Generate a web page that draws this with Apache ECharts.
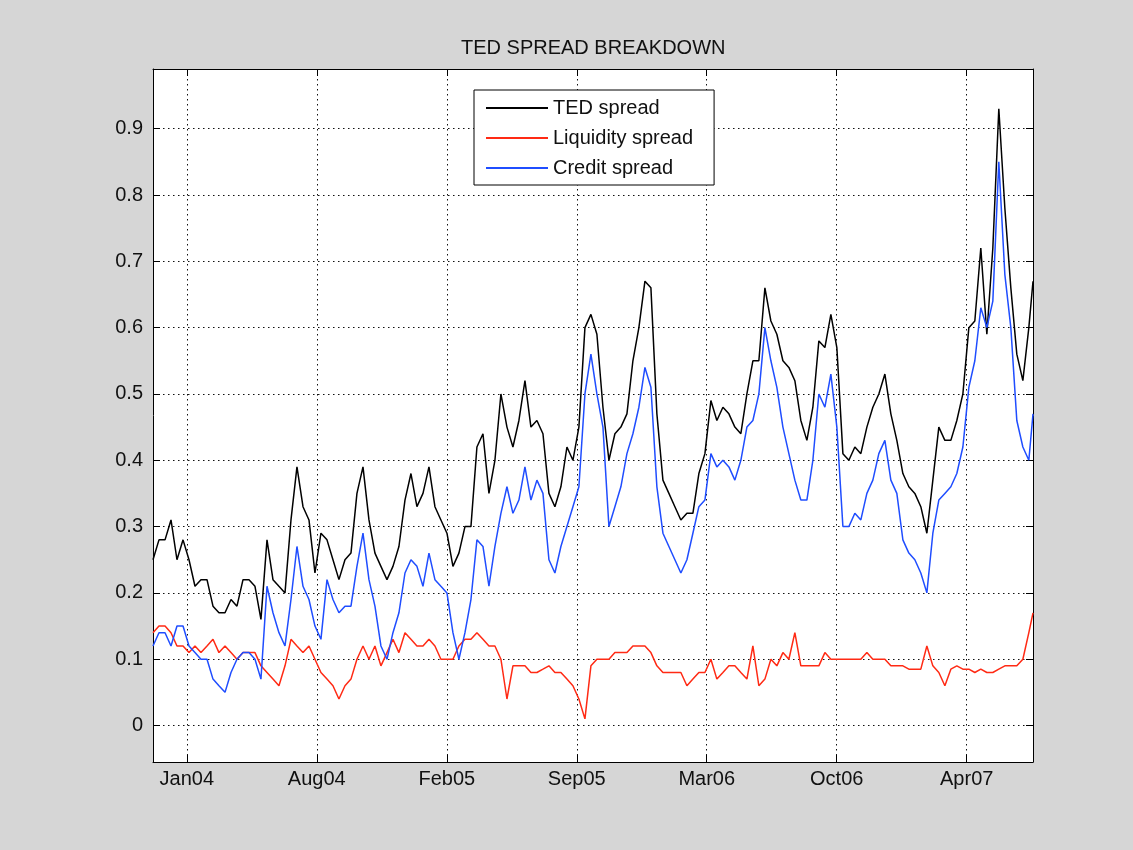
<!DOCTYPE html>
<html>
<head>
<meta charset="utf-8">
<title>TED SPREAD BREAKDOWN</title>
<script src="https://cdn.jsdelivr.net/npm/echarts@6.0.0/dist/echarts.min.js"></script>
<style>
    html, body { margin: 0; padding: 0; background: #d6d6d6; }
    #chart { width: 1133px; height: 850px; }
</style>
</head>
<body>
<div id="chart"></div>
<script>
// x is counted in days from the first date tick (mid Jan 2004), ticks every 200 days
var xMin = -52, xMax = 1302;
var xTicks = [0, 200, 400, 600, 800, 1000, 1200];
var xTickLabels = ['Jan04', 'Aug04', 'Feb05', 'Sep05', 'Mar06', 'Oct06', 'Apr07'];
var yTicks = [0, 0.1, 0.2, 0.3, 0.4, 0.5, 0.6, 0.7, 0.8, 0.9];

// sample dates (days), roughly every 9 days
var days = [];
for (var i = 0; i < 147; i++) {
    days.push(Math.round((xMin + i * 9.23) * 10) / 10);
}
days.push(xMax);

var tedSpread = [
    0.25, 0.28, 0.28, 0.31, 0.25, 0.28, 0.25, 0.21, 0.22, 0.22, 0.18, 0.17, 0.17, 0.19, 0.18, 0.22, 0.22, 0.21, 0.16, 0.28, 0.22, 0.21, 0.20, 0.31, 0.39,
    0.33, 0.31, 0.23, 0.29, 0.28, 0.25, 0.22, 0.25, 0.26, 0.35, 0.39, 0.31, 0.26, 0.24, 0.22, 0.24, 0.27, 0.34, 0.38, 0.33, 0.35, 0.39, 0.33, 0.31,
    0.29, 0.24, 0.26, 0.30, 0.30, 0.42, 0.44, 0.35, 0.40, 0.50, 0.45, 0.42, 0.46, 0.52, 0.45, 0.46, 0.44, 0.35, 0.33, 0.36, 0.42, 0.40, 0.45, 0.60,
    0.62, 0.59, 0.48, 0.40, 0.44, 0.45, 0.47, 0.55, 0.60, 0.67, 0.66, 0.47, 0.37, 0.35, 0.33, 0.31, 0.32, 0.32, 0.38, 0.41, 0.49, 0.46, 0.48, 0.47,
    0.45, 0.44, 0.50, 0.55, 0.55, 0.66, 0.61, 0.59, 0.55, 0.54, 0.52, 0.46, 0.43, 0.48, 0.58, 0.57, 0.62, 0.57, 0.41, 0.40, 0.42, 0.41, 0.45, 0.48,
    0.50, 0.53, 0.47, 0.43, 0.38, 0.36, 0.35, 0.33, 0.29, 0.37, 0.45, 0.43, 0.43, 0.46, 0.50, 0.60, 0.61, 0.72, 0.59, 0.72, 0.93, 0.78, 0.66, 0.56, 0.52, 0.60, 0.67
];

var liquiditySpread = [
    0.14, 0.15, 0.15, 0.14, 0.12, 0.12, 0.11, 0.12, 0.11, 0.12, 0.13, 0.11, 0.12, 0.11, 0.10, 0.11, 0.11, 0.11, 0.09, 0.08, 0.07, 0.06, 0.09, 0.13, 0.12,
    0.11, 0.12, 0.10, 0.08, 0.07, 0.06, 0.04, 0.06, 0.07, 0.10, 0.12, 0.10, 0.12, 0.09, 0.11, 0.13, 0.11, 0.14, 0.13, 0.12, 0.12, 0.13, 0.12, 0.10,
    0.10, 0.10, 0.12, 0.13, 0.13, 0.14, 0.13, 0.12, 0.12, 0.10, 0.04, 0.09, 0.09, 0.09, 0.08, 0.08, 0.085, 0.09, 0.08, 0.08, 0.07, 0.06, 0.04, 0.01,
    0.09, 0.10, 0.10, 0.10, 0.11, 0.11, 0.11, 0.12, 0.12, 0.12, 0.11, 0.09, 0.08, 0.08, 0.08, 0.08, 0.06, 0.07, 0.08, 0.08, 0.10, 0.07, 0.08, 0.09,
    0.09, 0.08, 0.07, 0.12, 0.06, 0.07, 0.10, 0.09, 0.11, 0.10, 0.14, 0.09, 0.09, 0.09, 0.09, 0.11, 0.10, 0.10, 0.10, 0.10, 0.10, 0.10, 0.11, 0.10,
    0.10, 0.10, 0.09, 0.09, 0.09, 0.085, 0.085, 0.085, 0.12, 0.09, 0.08, 0.06, 0.085, 0.09, 0.085, 0.085, 0.08, 0.085, 0.08, 0.08, 0.085, 0.09, 0.09, 0.09, 0.10, 0.14, 0.17
];

var creditSpread = [
    0.12, 0.14, 0.14, 0.12, 0.15, 0.15, 0.12, 0.11, 0.10, 0.10, 0.07, 0.06, 0.05, 0.08, 0.10, 0.11, 0.11, 0.10, 0.07, 0.21, 0.17, 0.14, 0.12, 0.19, 0.27,
    0.21, 0.19, 0.15, 0.13, 0.22, 0.19, 0.17, 0.18, 0.18, 0.24, 0.29, 0.22, 0.18, 0.12, 0.10, 0.14, 0.17, 0.23, 0.25, 0.24, 0.21, 0.26, 0.22, 0.21,
    0.20, 0.14, 0.10, 0.14, 0.19, 0.28, 0.27, 0.21, 0.27, 0.32, 0.36, 0.32, 0.34, 0.39, 0.34, 0.37, 0.35, 0.25, 0.23, 0.27, 0.30, 0.33, 0.36, 0.50,
    0.56, 0.50, 0.45, 0.30, 0.33, 0.36, 0.41, 0.44, 0.48, 0.54, 0.51, 0.36, 0.29, 0.27, 0.25, 0.23, 0.25, 0.29, 0.33, 0.34, 0.41, 0.39, 0.40, 0.39,
    0.37, 0.40, 0.45, 0.46, 0.50, 0.60, 0.55, 0.51, 0.45, 0.41, 0.37, 0.34, 0.34, 0.40, 0.50, 0.48, 0.53, 0.45, 0.30, 0.30, 0.32, 0.31, 0.35, 0.37,
    0.41, 0.43, 0.37, 0.35, 0.28, 0.26, 0.25, 0.23, 0.20, 0.29, 0.34, 0.35, 0.36, 0.38, 0.42, 0.51, 0.55, 0.63, 0.60, 0.64, 0.85, 0.68, 0.60, 0.46, 0.42, 0.40, 0.47
];

function pairs(xs, ys) {
    var out = [];
    for (var i = 0; i < ys.length; i++) {
        out.push([xs[i], ys[i]]);
    }
    return out;
}

var font = 'Liberation Sans, Arial, Helvetica, sans-serif';
var dotted = { color: '#111', width: 1, type: [1.5, 3.5] };

function lineSeries(name, values, color) {
    return {
        name: name,
        type: 'line',
        data: pairs(days, values),
        symbol: 'none',
        showSymbol: false,
        lineStyle: { color: color, width: 1.5 },
        itemStyle: { color: color },
        silent: true
    };
}

var chart = echarts.init(document.getElementById('chart'));

var option = {
    backgroundColor: '#d6d6d6',
    animation: false,
    title: {
        text: 'TED SPREAD BREAKDOWN',
        left: 456,
        top: 33,
        textStyle: { fontFamily: font, fontSize: 20, fontWeight: 'normal', color: '#111' }
    },
    legend: {
        orient: 'vertical',
        left: 474,
        top: 90,
        padding: [8, 21, 7, 12],
        backgroundColor: '#fff',
        borderColor: '#000',
        borderWidth: 1,
        icon: 'rect',
        itemWidth: 62,
        itemHeight: 2,
        itemGap: 10,
        textStyle: { fontFamily: font, fontSize: 20, lineHeight: 20, color: '#111' },
        data: ['TED spread', 'Liquidity spread', 'Credit spread']
    },
    grid: { left: 153, right: 100, top: 69, bottom: 88, backgroundColor: '#fff', show: true, borderWidth: 0 },
    xAxis: [
        {
            type: 'value',
            min: xMin,
            max: xMax,
            axisLine: { show: true, onZero: false, lineStyle: { color: '#000', width: 1 } },
            axisTick: { show: true, inside: true, length: 7, customValues: xTicks, lineStyle: { color: '#000' } },
            axisLabel: {
                customValues: xTicks,
                margin: 7,
                fontFamily: font,
                fontSize: 20,
                color: '#111',
                formatter: function (v) {
                    var k = xTicks.indexOf(v);
                    return k >= 0 ? xTickLabels[k] : '';
                }
            },
            splitLine: { show: true, lineStyle: dotted }
        },
        {
            type: 'value',
            position: 'top',
            min: xMin,
            max: xMax,
            axisLine: { show: true, onZero: false, lineStyle: { color: '#000', width: 1 } },
            axisTick: { show: true, inside: true, length: 7, customValues: xTicks, lineStyle: { color: '#000' } },
            axisLabel: { show: false },
            splitLine: { show: false }
        }
    ],
    yAxis: [
        {
            type: 'value',
            min: -0.055,
            max: 0.99,
            axisLine: { show: true, onZero: false, lineStyle: { color: '#000', width: 1 } },
            axisTick: { show: true, inside: true, length: 7, customValues: yTicks, lineStyle: { color: '#000' } },
            axisLabel: {
                customValues: yTicks,
                margin: 10,
                fontFamily: font,
                fontSize: 20,
                color: '#111'
            },
            splitLine: { show: true, lineStyle: dotted }
        },
        {
            type: 'value',
            position: 'right',
            min: -0.055,
            max: 0.99,
            axisLine: { show: true, onZero: false, lineStyle: { color: '#000', width: 1 } },
            axisTick: { show: true, inside: true, length: 7, customValues: yTicks, lineStyle: { color: '#000' } },
            axisLabel: { show: false },
            splitLine: { show: false }
        }
    ],
    series: [
        lineSeries('TED spread', tedSpread, '#000000'),
        lineSeries('Liquidity spread', liquiditySpread, '#ff2a14'),
        lineSeries('Credit spread', creditSpread, '#1f4dff')
    ]
};

chart.setOption(option);
</script>
</body>
</html>
